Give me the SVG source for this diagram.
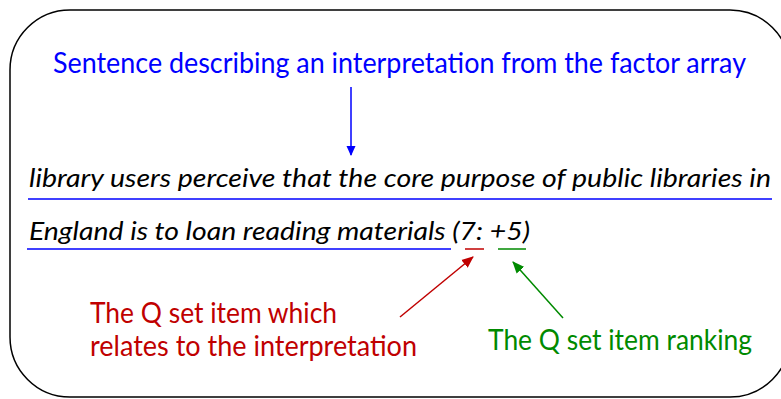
<svg xmlns="http://www.w3.org/2000/svg" width="781" height="399" viewBox="0 0 781 399">
<style>
.t{font-family:Lato,"Open Sans","Liberation Sans",sans-serif}
.it{font-style:italic;fill:#000;font-size:25px}
.blue{fill:#0000FF;font-size:28px}
.red{fill:#C00000;font-size:28px}
.green{fill:#008A00;font-size:28px}
</style>
<defs>
<marker id="hb" markerWidth="10" markerHeight="10" refX="9" refY="5" orient="auto" markerUnits="userSpaceOnUse"><path d="M0,0.5 L10,5 L0,9.5 Z" fill="#0000FF"/></marker>
<marker id="hr" markerWidth="12" markerHeight="12" refX="11" refY="6" orient="auto" markerUnits="userSpaceOnUse"><path d="M0,1 L12,6 L0,11 Z" fill="#C00000"/></marker>
<marker id="hg" markerWidth="12" markerHeight="12" refX="11" refY="6" orient="auto" markerUnits="userSpaceOnUse"><path d="M0,1 L12,6 L0,11 Z" fill="#008A00"/></marker>
</defs>
<g id="frame"><rect x="10" y="10" width="780" height="387" rx="60" ry="60" fill="none" stroke="#000" stroke-width="1.5"/></g>
<g id="title"><text class="t blue" x="53" y="73" textLength="693" lengthAdjust="spacingAndGlyphs">Sentence describing an interpretation from the factor array</text></g>
<g id="sentence">
<text class="t it" x="29" y="187" textLength="742" lengthAdjust="spacingAndGlyphs">library users perceive that the core purpose of public libraries in</text>
<text class="t it" x="29" y="240" textLength="501" lengthAdjust="spacingAndGlyphs">England is to loan reading materials (7: +5)</text>
<line x1="28" y1="199" x2="772" y2="199" stroke="#0000FF" stroke-width="1.5"/>
<line x1="27" y1="249" x2="451" y2="249" stroke="#0000FF" stroke-width="1.5"/>
<line x1="465" y1="249" x2="484" y2="249" stroke="#C00000" stroke-width="1.5"/>
<line x1="498" y1="249" x2="526" y2="249" stroke="#008A00" stroke-width="1.5"/>
</g>
<g id="item-label"><text class="t red" x="90" y="323" textLength="247" lengthAdjust="spacingAndGlyphs">The Q set item which</text>
<text class="t red" x="90" y="356" textLength="327" lengthAdjust="spacingAndGlyphs">relates to the interpretation</text></g>
<g id="ranking-label"><text class="t green" x="488" y="350" textLength="264" lengthAdjust="spacingAndGlyphs">The Q set item ranking</text></g>
<g id="connectors">
<line x1="351" y1="87" x2="351" y2="155" stroke="#0000FF" stroke-width="1.5" marker-end="url(#hb)"/>
<line x1="400" y1="317" x2="473" y2="257" stroke="#C00000" stroke-width="1.5" marker-end="url(#hr)"/>
<line x1="563" y1="318" x2="513" y2="262" stroke="#008A00" stroke-width="1.5" marker-end="url(#hg)"/>
</g>
</svg>
